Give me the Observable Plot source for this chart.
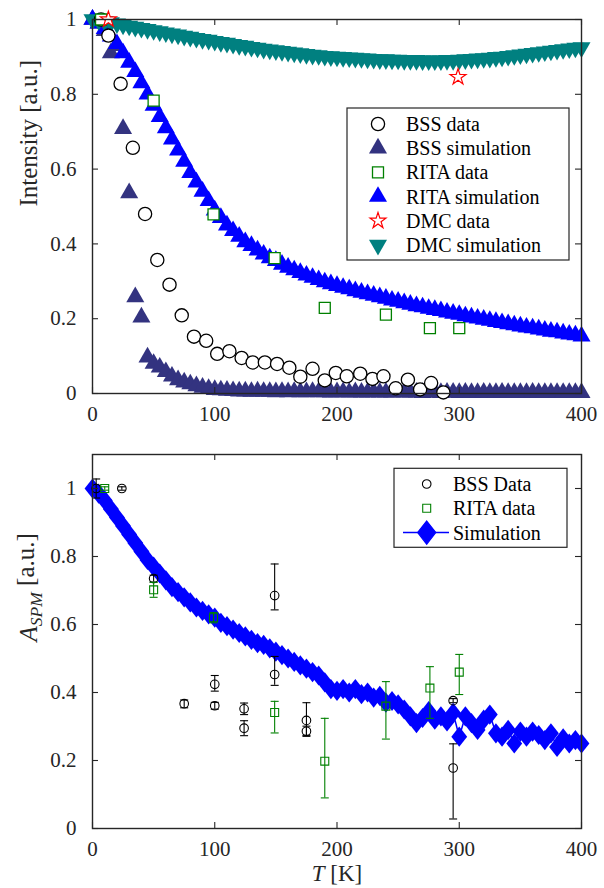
<!DOCTYPE html>
<html><head><meta charset="utf-8">
<script src="https://cdn.jsdelivr.net/npm/d3@7"></script>
<script src="https://cdn.jsdelivr.net/npm/@observablehq/plot@0.6"></script>
<style>
body{margin:0;background:#fff;}
#wrap{position:relative;width:604px;height:888px;background:#fff;}
#top{position:absolute;left:0;top:0;}
#bottom{position:absolute;left:0;top:440px;}
</style></head><body><div id="wrap"><div id="top"></div><div id="bottom"></div></div>
<script>
// ---------- DATA ----------
const xTicks = [0, 100, 200, 300, 400];
const yTicks = [0, 0.2, 0.4, 0.6, 0.8, 1];

const topLegend = ["BSS data", "BSS simulation", "RITA data", "RITA simulation", "DMC data", "DMC simulation"];
const bottomLegend = ["BSS Data", "RITA data", "Simulation"];

// simulation temperature grid (K)
const simT = [0,5,10,15,20,25,30,35,40,45,50,55,60,65,70,75,80,85,90,95,100,105,110,115,120,125,130,135,140,145,150,155,160,165,170,175,180,185,190,195,200,205,210,215,220,225,230,235,240,245,250,255,260,265,270,275,280,285,290,295,300,305,310,315,320,325,330,335,340,345,350,355,360,365,370,375,380,385,390,395,400];

const bssSim = [1.0,0.99,0.97,0.91,0.93,0.708,0.536,0.258,0.204,0.097,
0.08,0.07,0.058,0.046,0.036,0.03,0.025,0.02,0.016,0.013,
0.01,0.009,0.008,0.007,0.006,0.006,0.005,0.006,0.005,0.005,
0.004,0.005,0.004,0.005,0.004,0.004,0.005,0.004,0.004,0.003,
0.004,0.004,0.003,0.004,0.003,0.003,0.004,0.003,0.003,0.003,
0.004,0.003,0.003,0.003,0.002,0.003,0.003,0.002,0.003,0.003,
0.002,0.003,0.002,0.002,0.003,0.002,0.002,0.003,0.002,0.002,
0.002,0.002,0.003,0.002,0.002,0.002,0.002,0.002,0.002,0.002,0.002];

const ritaSim = [1.0,0.99,0.975,0.955,0.935,0.91,0.885,0.86,0.83,0.80,
0.77,0.74,0.71,0.68,0.65,0.62,0.59,0.565,0.54,0.515,
0.49,0.47,0.45,0.435,0.42,0.405,0.395,0.383,0.372,0.362,
0.355,0.345,0.337,0.33,0.323,0.316,0.31,0.304,0.298,0.293,
0.288,0.283,0.279,0.274,0.27,0.266,0.262,0.258,0.254,0.249,
0.246,0.242,0.238,0.234,0.231,0.227,0.224,0.221,0.217,0.214,
0.211,0.207,0.204,0.201,0.198,0.195,0.192,0.189,0.186,0.183,
0.18,0.177,0.175,0.172,0.169,0.166,0.164,0.161,0.158,0.156,0.153];

const dmcSim = [1.0,0.998,0.995,0.992,0.989,0.986,0.983,0.98,0.977,0.974,
0.971,0.968,0.965,0.962,0.959,0.956,0.953,0.95,0.947,0.945,
0.942,0.939,0.937,0.934,0.931,0.929,0.926,0.924,0.921,0.919,
0.917,0.915,0.913,0.911,0.909,0.907,0.905,0.904,0.902,0.901,
0.9,0.899,0.898,0.897,0.896,0.895,0.894,0.893,0.893,0.892,
0.892,0.891,0.891,0.891,0.89,0.89,0.89,0.89,0.891,0.891,
0.892,0.893,0.894,0.895,0.896,0.897,0.899,0.9,0.902,0.904,
0.906,0.908,0.91,0.912,0.914,0.916,0.918,0.92,0.922,0.924,0.925];

const bssDataT = [7,13,23,33,43,53,63,73,83,93,102,112,122,131,141,151,161,170,180,190,199,208,219,229,238,248,258,268,277,287];
const bssDataI = [1.0,0.957,0.828,0.657,0.48,0.357,0.291,0.209,0.152,0.141,0.106,0.113,0.095,0.083,0.083,0.079,0.069,0.045,0.066,0.035,0.055,0.046,0.053,0.039,0.046,0.014,0.037,0.011,0.028,0.003];
const ritaDataT = [7,50,99,149,190,240,276,300];
const ritaDataI = [1.0,0.783,0.479,0.362,0.229,0.211,0.175,0.175];
const dmcDataT = [13,299];
const dmcDataI = [1.0,0.846];

// bottom panel
const aSim = [1.0,0.985,0.965,0.94,0.915,0.89,0.865,0.84,0.815,0.79,
0.77,0.75,0.73,0.71,0.695,0.68,0.665,0.65,0.64,0.63,
0.62,0.605,0.595,0.585,0.575,0.565,0.555,0.545,0.54,0.53,
0.52,0.51,0.5,0.49,0.48,0.47,0.46,0.45,0.43,0.41,
0.405,0.41,0.4,0.41,0.395,0.4,0.385,0.39,0.37,0.375,
0.365,0.35,0.33,0.31,0.325,0.345,0.32,0.33,0.315,0.34,
0.27,0.33,0.31,0.29,0.32,0.335,0.28,0.27,0.29,0.25,
0.285,0.27,0.285,0.275,0.26,0.28,0.24,0.265,0.25,0.26,0.25];

const bssAT  = [3,24,50,75,100,100,124,124,149,149,175,175,295,295];
const bssA   = [1.0,1.0,0.735,0.367,0.424,0.361,0.352,0.295,0.685,0.453,0.318,0.286,0.376,0.178];
const bssALo = [0.972,0.995,0.725,0.355,0.404,0.351,0.335,0.273,0.643,0.421,0.274,0.271,0.37,0.028];
const bssAHi = [1.028,1.005,0.745,0.378,0.45,0.371,0.369,0.317,0.778,0.506,0.37,0.301,0.382,0.249];

const ritaAT  = [10,50,99,149,190,240,276,300];
const ritaA   = [1.0,0.702,0.62,0.341,0.198,0.36,0.413,0.46];
const ritaALo = [0.995,0.68,0.605,0.281,0.09,0.263,0.324,0.394];
const ritaAHi = [1.005,0.724,0.635,0.374,0.324,0.432,0.476,0.512];

// ---------- helpers ----------
const rows = (T, v) => T.map((t, i) => ({T: t, v: v[i]}));
const errRows = (T, v, lo, hi) => T.map((t, i) => ({T: t, v: v[i], lo: lo[i], hi: hi[i]}));

const triDown = {draw(ctx, size) {
  const y = Math.sqrt(size / (Math.sqrt(3) * 3));
  ctx.moveTo(0, 2 * y); ctx.lineTo(-Math.sqrt(3) * y, -y); ctx.lineTo(Math.sqrt(3) * y, -y); ctx.closePath();
}};
const diamond = {draw(ctx, size) {
  const s = Math.sqrt(size / Math.PI);
  const hx = 0.9 * s, hy = 1.15 * s;
  ctx.moveTo(0, -hy); ctx.lineTo(hx, 0); ctx.lineTo(0, hy); ctx.lineTo(-hx, 0); ctx.closePath();
}};
const cap = {draw(ctx, size) { ctx.moveTo(-4, 0); ctx.lineTo(4, 0); }};

const AX = "#262626";
const FONT = "'Liberation Serif', 'Times New Roman', serif";

function boxTicks(H, W) {
  return [
    Plot.ruleX(xTicks, {x: d => d, insetTop: H - 6, stroke: AX, strokeWidth: 1.1}),
    Plot.ruleX(xTicks, {x: d => d, insetBottom: H - 6, stroke: AX, strokeWidth: 1.1}),
    Plot.ruleY(yTicks, {y: d => d, insetRight: W - 6, stroke: AX, strokeWidth: 1.1}),
    Plot.ruleY(yTicks, {y: d => d, insetLeft: W - 6, stroke: AX, strokeWidth: 1.1}),
    Plot.frame({stroke: AX, strokeWidth: 1.4}),
    Plot.axisX(xTicks, {tickSize: 0, tickPadding: 13, tickFormat: d => String(d), label: null}),
    Plot.axisY(yTicks, {tickSize: 0, tickPadding: 16, tickFormat: d => String(d), label: null})
  ];
}

function legend(svg, box, items, sx, tx, y0, dy) {
  const g = d3.select(svg).append("g");
  g.append("rect").attr("x", box[0]).attr("y", box[1]).attr("width", box[2]).attr("height", box[3])
    .attr("fill", "white").attr("stroke", AX).attr("stroke-width", 1.2);
  items.forEach((it, i) => {
    const y = y0 + i * dy;
    if (it.line) g.append("line").attr("x1", it.line[0]).attr("x2", it.line[1]).attr("y1", y).attr("y2", y)
      .attr("stroke", it.stroke).attr("stroke-width", 1.5);
    g.append("path").attr("d", d3.symbol(it.type, it.r * it.r * Math.PI)())
      .attr("transform", `translate(${sx},${y})`)
      .attr("fill", it.fill).attr("stroke", it.stroke).attr("stroke-width", it.sw || 1.3);
    g.append("text").attr("x", tx).attr("y", y)
      .style("text-anchor", "start").style("dominant-baseline", "central")
      .style("font-family", FONT).style("font-size", "20px").style("fill", "#000").text(it.label);
  });
}

// ---------- TOP PANEL ----------
const topPlot = Plot.plot({
  width: 604, height: 440,
  marginTop: 19, marginBottom: 47, marginLeft: 92, marginRight: 23,
  x: {domain: [0, 400]}, y: {domain: [0, 1]},
  style: {fontFamily: FONT, fontSize: "21px", color: AX, background: "#fff"},
  marks: [
    Plot.dot(rows(simT, bssSim), {x: "T", y: "v", symbol: "triangle", r: 6.7, fill: "#333380", stroke: "none"}),
    Plot.dot(rows(simT, ritaSim), {x: "T", y: "v", symbol: "triangle", r: 6.7, fill: "#0000ff", stroke: "none"}),
    Plot.dot(rows(simT, dmcSim), {x: "T", y: "v", symbol: triDown, r: 6.7, fill: "#008080", stroke: "none"}),
    Plot.dot(rows(bssDataT, bssDataI), {x: "T", y: "v", symbol: "circle", r: 6.6, fill: "white", stroke: "black", strokeWidth: 1.3}),
    Plot.dot(rows(ritaDataT, ritaDataI), {x: "T", y: "v", symbol: "square", r: 6.2, fill: "white", stroke: "#008000", strokeWidth: 1.3}),
    Plot.dot(rows(dmcDataT, dmcDataI), {x: "T", y: "v", symbol: "star", r: 5, fill: "white", stroke: "#ff0000", strokeWidth: 1.2}),
    ...boxTicks(374, 489),
    Plot.text(["Intensity [a.u.]"], {text: d => d, frameAnchor: "left", dx: -64, rotate: -90, fontSize: 25, fill: AX})
  ]
});
document.getElementById("top").appendChild(topPlot);
legend(topPlot, [347, 108, 222, 152], [
  {label: topLegend[0], type: d3.symbolCircle, r: 6.6, fill: "white", stroke: "black"},
  {label: topLegend[1], type: d3.symbolTriangle, r: 6.7, fill: "#333380", stroke: "none"},
  {label: topLegend[2], type: d3.symbolSquare, r: 6.2, fill: "white", stroke: "#008000"},
  {label: topLegend[3], type: d3.symbolTriangle, r: 6.7, fill: "#0000ff", stroke: "none"},
  {label: topLegend[4], type: d3.symbolStar, r: 5, fill: "white", stroke: "#ff0000", sw: 1.2},
  {label: topLegend[5], type: triDown, r: 6.7, fill: "#008080", stroke: "none"}
], 378, 406, 124, 24.2);

// ---------- BOTTOM PANEL ----------
const bss = errRows(bssAT, bssA, bssALo, bssAHi);
const rita = errRows(ritaAT, ritaA, ritaALo, ritaAHi);
const botPlot = Plot.plot({
  width: 604, height: 448,
  marginTop: 14, marginBottom: 60, marginLeft: 92, marginRight: 23,
  x: {domain: [0, 400]}, y: {domain: [0, 1.1]},
  style: {fontFamily: FONT, fontSize: "21px", color: AX, background: "#fff"},
  marks: [
    Plot.line(rows(simT, aSim), {x: "T", y: "v", stroke: "#0000ff", strokeWidth: 1.5}),
    Plot.dot(rows(simT, aSim), {x: "T", y: "v", symbol: diamond, r: 8.8, fill: "#0000ff", stroke: "none"}),
    Plot.ruleX(bss, {x: "T", y1: "lo", y2: "hi", stroke: "black", strokeWidth: 1.1}),
    Plot.dot(bss, {x: "T", y: "lo", symbol: cap, stroke: "black", strokeWidth: 1.1, fill: "none"}),
    Plot.dot(bss, {x: "T", y: "hi", symbol: cap, stroke: "black", strokeWidth: 1.1, fill: "none"}),
    Plot.dot(bss, {x: "T", y: "v", symbol: "circle", r: 4.3, fill: "none", stroke: "black", strokeWidth: 1.1}),
    Plot.ruleX(rita, {x: "T", y1: "lo", y2: "hi", stroke: "#008000", strokeWidth: 1.1}),
    Plot.dot(rita, {x: "T", y: "lo", symbol: cap, stroke: "#008000", strokeWidth: 1.1, fill: "none"}),
    Plot.dot(rita, {x: "T", y: "hi", symbol: cap, stroke: "#008000", strokeWidth: 1.1, fill: "none"}),
    Plot.dot(rita, {x: "T", y: "v", symbol: "square", r: 4.5, fill: "none", stroke: "#008000", strokeWidth: 1.1}),
    ...boxTicks(374, 489),
    Plot.text(["ASPM [a.u.]"], {text: d => d, frameAnchor: "left", dx: -64, rotate: -90, fontSize: 25, fill: AX}),
    Plot.text(["T [K]"], {text: d => d, frameAnchor: "bottom", dy: 52, fontSize: 23, fill: AX})
  ]
});
document.getElementById("bottom").appendChild(botPlot);
legend(botPlot, [394, 28.3, 173, 79], [
  {label: bottomLegend[0], type: d3.symbolCircle, r: 4.3, fill: "none", stroke: "black", sw: 1.1},
  {label: bottomLegend[1], type: d3.symbolSquare, r: 4.5, fill: "none", stroke: "#008000", sw: 1.1},
  {label: bottomLegend[2], type: diamond, r: 10, fill: "#0000ff", stroke: "#0000ff", sw: 0, line: [403, 449]}
], 426.7, 453, 44, 24.3);

// rich text for axis titles
d3.select(botPlot).selectAll("text").filter(function() { return this.textContent === "ASPM [a.u.]"; })
  .each(function() {
    const t = d3.select(this).text(null);
    t.append("tspan").attr("font-style", "italic").text("A");
    t.append("tspan").attr("font-style", "italic").attr("font-size", "70%").attr("dy", "0.3em").text("SPM");
    t.append("tspan").attr("dy", "-0.3em").text(" [a.u.]");
  });
d3.select(botPlot).selectAll("text").filter(function() { return this.textContent === "T [K]"; })
  .each(function() {
    const t = d3.select(this).text(null);
    t.append("tspan").attr("font-style", "italic").text("T");
    t.append("tspan").text(" [K]");
  });
</script></body></html>
